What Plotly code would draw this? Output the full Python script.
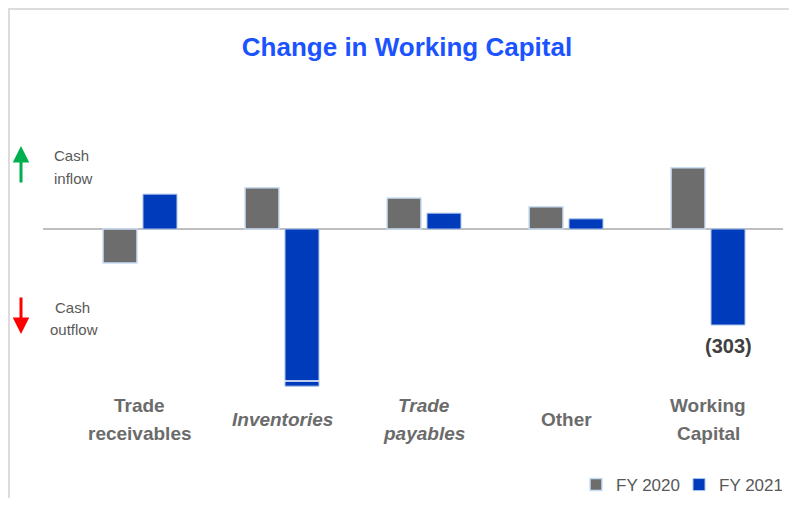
import plotly.graph_objects as go

categories = ["Trade receivables", "Inventories", "Trade payables", "Other", "Working Capital"]
label_texts = ["<b>Trade<br>receivables</b>", "<b><i>Inventories</i></b>", "<b><i>Trade<br>payables</i></b>",
               "<b>Other</b>", "<b>Working<br>Capital</b>"]
fy2020 = [-107, 130, 98, 70, 193]
fy2021 = [110, -496, 50, 32, -303]
series_names = ["FY 2020", "FY 2021"]

# page is 797x506; the browser body adds an 8px margin around the figure
OFF = 8
W, H = 797 - 2 * OFF, 506 - 2 * OFF
# plot area in page pixels: x 43..783, y 130..395
ML, MR, MT, MB = 43 - OFF, W - (783 - OFF), 130 - OFF, H - (395 - OFF)
PW, PH = W - ML - MR, H - MT - MB
ZERO_Y = 229          # page y of zero line
PX_PER_UNIT = 0.3168  # vertical scale


def px(x):
    return (x - OFF - ML) / PW


def py(y):
    return (H + OFF - MB - y) / PH


BARGAP = 0.437
BARGROUPGAP = 0.15
GRAY = "#6d6d6d"
BLUE = "#003bbb"
TXT = "#6b6b6b"
FONT = "Liberation Sans, Arial, sans-serif"

fig = go.Figure()
fig.add_trace(go.Bar(x=categories, y=fy2020, name=series_names[0], marker=dict(color=GRAY, line=dict(color="#c9def3", width=1.5))))
fig.add_trace(go.Bar(x=categories, y=fy2021, name=series_names[1], marker=dict(color=BLUE, line=dict(color="#a8c3ea", width=1))))

annotations = []
for i, t in enumerate(label_texts):
    style_open, style_close = ("<b><i>", "</i></b>") if "<i>" in t else ("<b>", "</b>")
    plain = t.replace("<b>", "").replace("</b>", "").replace("<i>", "").replace("</i>", "")
    lines = plain.split("<br>")
    ys = [419] if len(lines) == 1 else [405, 433]
    for line, yy in zip(lines, ys):
        annotations.append(dict(x=categories[i], xref="x", y=py(yy), yref="paper",
                                text=style_open + line + style_close, showarrow=False,
                                font=dict(family=FONT, size=19, color=TXT), yanchor="middle", xanchor="center"))

# value label for Working Capital FY 2021
off = (1 - BARGAP) / 4
annotations.append(dict(x=4 + off, xref="x", y=fy2021[4], yref="y", text="<b>(%d)</b>" % abs(fy2021[4]),
                        showarrow=False, yanchor="top", yshift=-8,
                        font=dict(family=FONT, size=20, color="#404040")))

# cash inflow/outflow texts
for txt, xx, yy in [("Cash", 71, 155), ("inflow", 73, 178), ("Cash", 72, 307), ("outflow", 74, 329)]:
    annotations.append(dict(x=px(xx), y=py(yy), xref="paper", yref="paper", text=txt, showarrow=False,
                            font=dict(family=FONT, size=15, color="#595959"), xanchor="center", yanchor="middle"))
# arrows
annotations.append(dict(x=px(21), y=py(146), xref="paper", yref="paper", ax=0, ay=38,
                        text="", showarrow=True, arrowhead=2, arrowsize=1.1, arrowwidth=3, arrowcolor="#00b050"))
annotations.append(dict(x=px(21), y=py(334), xref="paper", yref="paper", ax=0, ay=-38,
                        text="", showarrow=True, arrowhead=2, arrowsize=1.1, arrowwidth=3, arrowcolor="#ff0000"))

bw = (1 - BARGAP) / 2 * (1 - BARGROUPGAP)
shapes = [
    # frame
    dict(type="line", xref="paper", yref="paper", x0=px(8), x1=px(797), y0=py(9), y1=py(9), line=dict(color="#dcdcdc", width=2)),
    dict(type="line", xref="paper", yref="paper", x0=px(9), x1=px(9), y0=py(9), y1=py(506), line=dict(color="#dcdcdc", width=2)),
    # break mark on inventories bar
    dict(type="line", xref="x", yref="y", x0=1 + off - bw / 2, x1=1 + off + bw / 2,
         y0=fy2021[1] * 0.968, y1=fy2021[1] * 0.968, line=dict(color="white", width=1.5)),
]

fig.update_layout(
    width=W, height=H,
    margin=dict(l=ML, r=MR, t=MT, b=MB, autoexpand=False),
    paper_bgcolor="white", plot_bgcolor="white",
    barmode="group", bargap=BARGAP, bargroupgap=BARGROUPGAP,
    title=dict(text="<b>Change in Working Capital</b>", x=(407 - OFF) / W, y=1 - (47 - OFF) / H,
               xanchor="center", yanchor="middle",
               font=dict(family=FONT, size=26, color="#1a53ff")),
    xaxis=dict(range=[-0.683, 4.528], showticklabels=False, showgrid=False, zeroline=False, showline=False, fixedrange=True),
    yaxis=dict(range=[-(395 - ZERO_Y) / PX_PER_UNIT, (ZERO_Y - 130) / PX_PER_UNIT], showticklabels=False, showgrid=False,
               zeroline=True, zerolinecolor="#bfbfbf", zerolinewidth=1.5, showline=False),
    legend=dict(orientation="h", x=px(576), xanchor="left", y=py(485), yanchor="middle",
                font=dict(family=FONT, size=17, color="#595959"), itemwidth=30, traceorder="normal",
                entrywidth=58, entrywidthmode="pixels"),
    annotations=annotations, shapes=shapes, showlegend=True,
)

fig.write_html("out.html")
